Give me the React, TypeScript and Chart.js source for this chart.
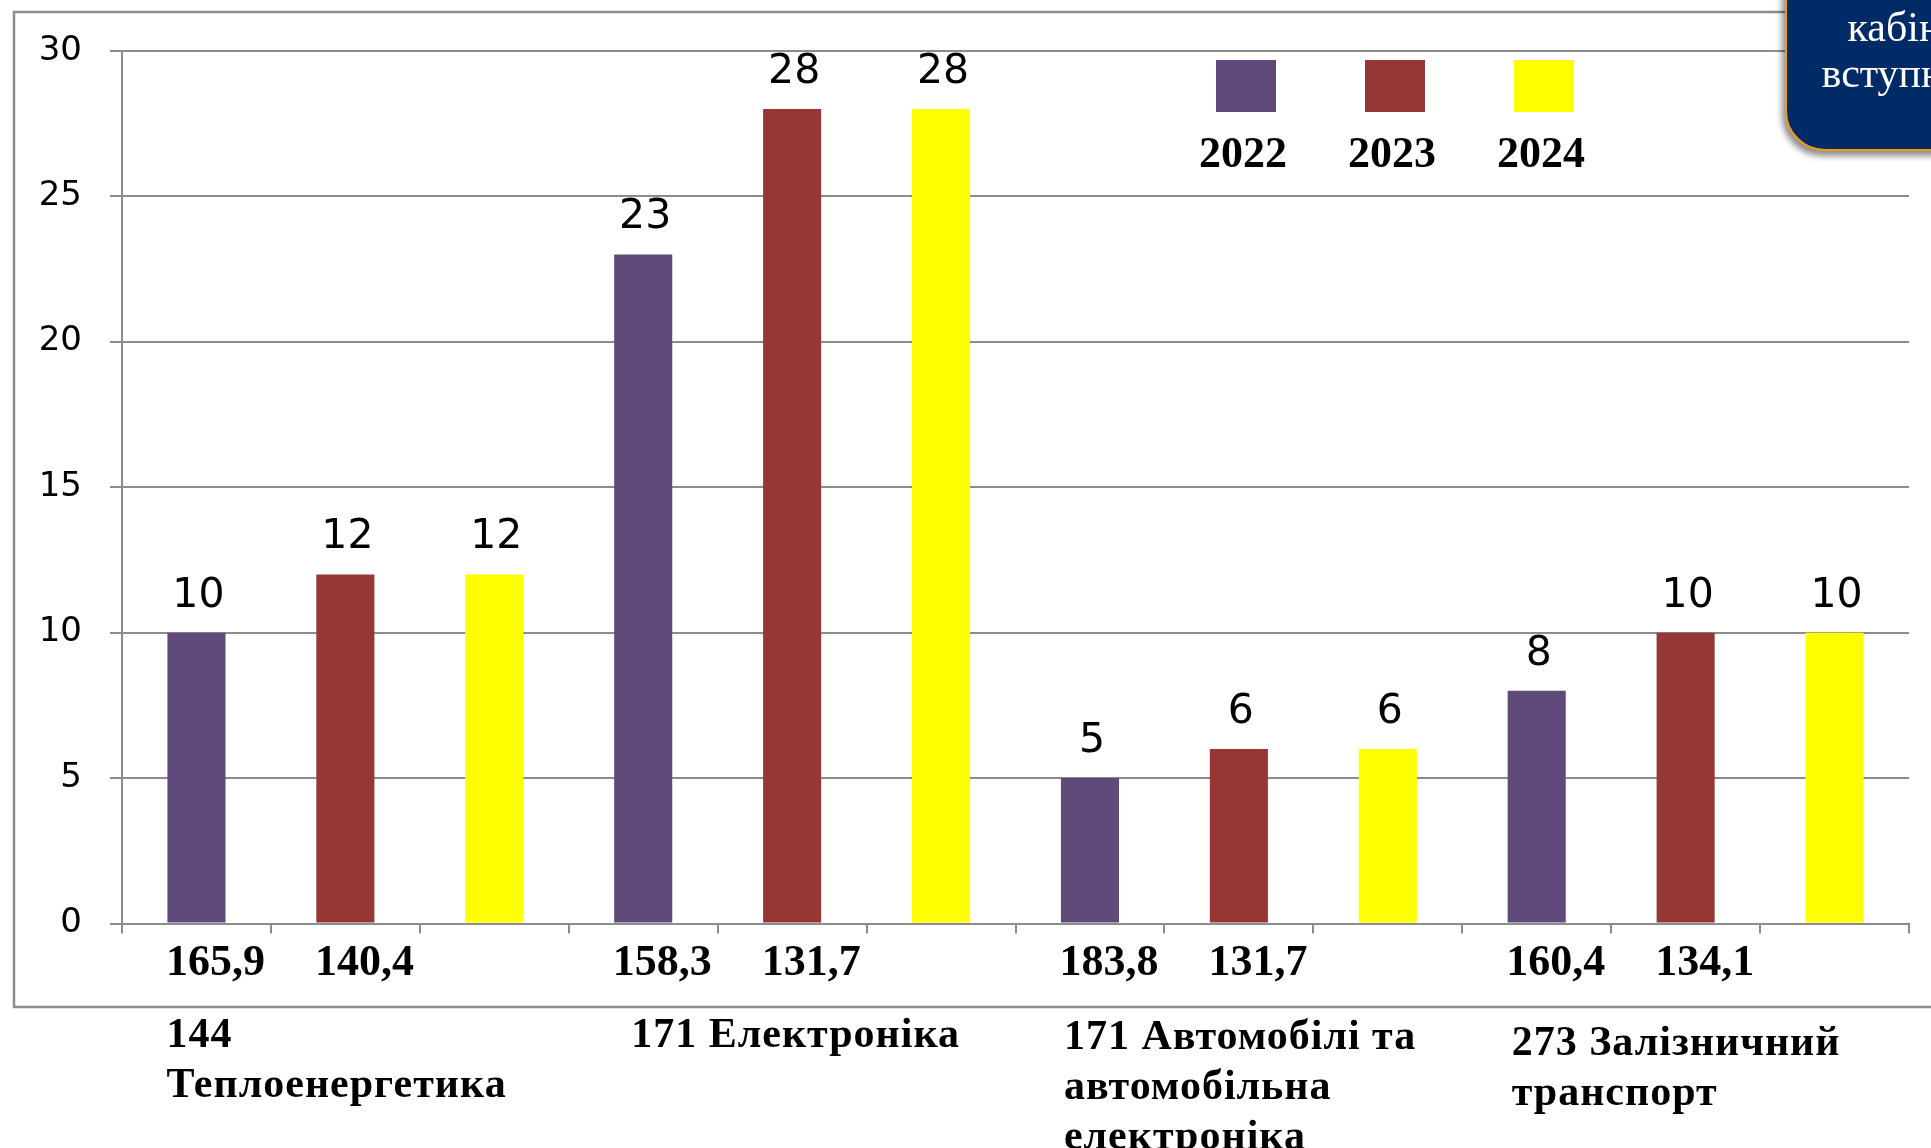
import React, { useEffect, useRef } from "react";
import { Chart, registerables } from "chart.js";

Chart.register(...registerables);

// ---- data ----
const years = ["2022", "2023", "2024"];
const specialties = [
  ["144", "Теплоенергетика"],
  ["171 Електроніка"],
  ["171 Автомобілі та", "автомобільна", "електроніка"],
  ["273 Залізничний", "транспорт"],
];
const values2022 = [10, 23, 5, 8];
const values2023 = [12, 28, 6, 10];
const values2024 = [12, 28, 6, 10];
const scores2022 = ["165,9", "158,3", "183,8", "160,4"];
const scores2023 = ["140,4", "131,7", "131,7", "134,1"];
const scores2024 = ["", "", "", ""];
const yTicks = [0, 5, 10, 15, 20, 25, 30];
const colors = ["#604a7b", "#953735", "#ffff00"];

const seriesValues = [values2022, values2023, values2024];
const seriesScores = [scores2022, scores2023, scores2024];

const slotLabels: string[] = [];
specialties.forEach((_, g) => years.forEach((_, s) => slotLabels.push(seriesScores[s][g])));

const GRID = "#8c8c8c";
const SERIF = '"Liberation Serif", "Times New Roman", serif';
const SANS = '"DejaVu Sans", Verdana, sans-serif';

const framePlugin = {
  id: "frame",
  beforeDraw(chart: any) {
    const ctx = chart.ctx;
    ctx.save();
    ctx.fillStyle = "#ffffff";
    ctx.fillRect(0, 0, chart.width, chart.height);
    ctx.strokeStyle = GRID;
    ctx.lineWidth = 2.5;
    ctx.strokeRect(14, 12, chart.width + 40, 995);
    ctx.restore();
  },
};

const valueLabelPlugin = {
  id: "valueLabels",
  afterDatasetsDraw(chart: any) {
    const ctx = chart.ctx;
    ctx.save();
    ctx.font = `41px ${SANS}`;
    ctx.fillStyle = "#000";
    ctx.textAlign = "center";
    ctx.textBaseline = "alphabetic";
    chart.data.datasets.forEach((ds: any, di: number) => {
      const meta = chart.getDatasetMeta(di);
      meta.data.forEach((el: any, i: number) => {
        const v = ds.data[i];
        if (v == null) return;
        ctx.fillText(String(v), el.x + 2, el.y - 26);
      });
    });
    ctx.restore();
  },
};

const legendPlugin = {
  id: "customLegend",
  afterDraw(chart: any) {
    const ctx = chart.ctx;
    ctx.save();
    chart.data.datasets.forEach((ds: any, i: number) => {
      const cx = 1246 + i * 149;
      ctx.fillStyle = ds.backgroundColor;
      ctx.fillRect(cx - 30, 60, 60, 52);
      ctx.fillStyle = "#000";
      ctx.font = `bold 44px ${SERIF}`;
      ctx.textAlign = "center";
      ctx.textBaseline = "alphabetic";
      ctx.fillText(ds.label, cx - 3, 167);
    });
    ctx.restore();
  },
};

const groupLabelPlugin = {
  id: "groupLabels",
  afterDraw(chart: any) {
    const ctx = chart.ctx;
    const meta = chart.getDatasetMeta(0);
    const offsets = [-1, 17, 3, 4];
    const firstLine = [113, 113, 115, 121];
    ctx.save();
    ctx.font = `bold 42px ${SERIF}`;
    try {
      (ctx as any).letterSpacing = "1px";
    } catch (e) {}
    ctx.fillStyle = "#000";
    ctx.textAlign = "left";
    ctx.textBaseline = "middle";
    specialties.forEach((lines, g) => {
      const el = meta.data[g * 3];
      const left = el.x - el.width / 2 + offsets[g];
      lines.forEach((line, k) => {
        ctx.fillText(line, left, chart.chartArea.bottom + firstLine[g] + k * 50);
      });
    });
    ctx.restore();
  },
};

export default function App() {
  const ref = useRef<HTMLCanvasElement | null>(null);

  useEffect(() => {
    if (!ref.current) return;
    const datasets = years.map((y, s) => ({
      label: y,
      data: slotLabels.map((_, i) => (i % 3 === s ? seriesValues[s][Math.floor(i / 3)] : null)),
      backgroundColor: colors[s],
      borderWidth: 0,
      categoryPercentage: 1,
      barPercentage: 0.39,
    }));
    const chart = new Chart(ref.current, {
      type: "bar",
      data: { labels: slotLabels, datasets },
      options: {
        animation: false,
        responsive: false,
        maintainAspectRatio: false,
        skipNull: true,
        layout: { padding: { top: 50.7, right: 22, left: 0, bottom: 0 } },
        plugins: {
          legend: { display: false },
          tooltip: { enabled: false },
        },
        scales: {
          x: {
            grid: {
              display: true,
              drawOnChartArea: false,
              drawTicks: true,
              tickLength: 10,
              color: GRID,
              lineWidth: 2,
            },
            border: { display: true, color: GRID, width: 2 },
            ticks: {
              autoSkip: false,
              maxRotation: 0,
              minRotation: 0,
              padding: 4,
              labelOffset: 19,
              color: "#000",
              font: { family: SERIF, size: 44, weight: "bold" },
            },
            afterFit(scale: any) {
              scale.height = 1148 - 923.6;
            },
          },
          y: {
            min: 0,
            max: 30,
            grid: {
              color: GRID,
              lineWidth: 2,
              tickLength: 12,
            },
            border: { display: true, color: GRID, width: 2 },
            ticks: {
              padding: 28,
              color: "#000",
              font: { family: SANS, size: 34 },
            },
            afterBuildTicks(scale: any) {
              scale.ticks = yTicks.map((v) => ({ value: v }));
            },
            afterFit(scale: any) {
              scale.width = 122;
            },
          },
        },
      } as any,
      plugins: [framePlugin, valueLabelPlugin, legendPlugin, groupLabelPlugin],
    });
    return () => chart.destroy();
  }, []);

  return (
    <div
      style={{
        position: "fixed",
        left: 0,
        top: 0,
        width: 1931,
        height: 1148,
        overflow: "hidden",
        background: "#fff",
      }}
    >
      <canvas ref={ref} width={1931} height={1148} style={{ width: 1931, height: 1148, display: "block" }} />
      <div
        style={{
          position: "absolute",
          left: 1785,
          top: -30,
          width: 256,
          height: 177,
          background: "#002b66",
          border: "2px solid #f39c12",
          borderBottomLeftRadius: 40,
          boxShadow: "-3px 5px 6px rgba(0,0,0,0.45)",
          color: "#fff",
          fontFamily: SERIF,
          fontSize: 42,
          textAlign: "center",
        }}
      >
        <div style={{ position: "absolute", left: -4, right: 0, top: 32, lineHeight: "46px" }}>
          кабінет
          <br />
          вступника
        </div>
      </div>
    </div>
  );
}
